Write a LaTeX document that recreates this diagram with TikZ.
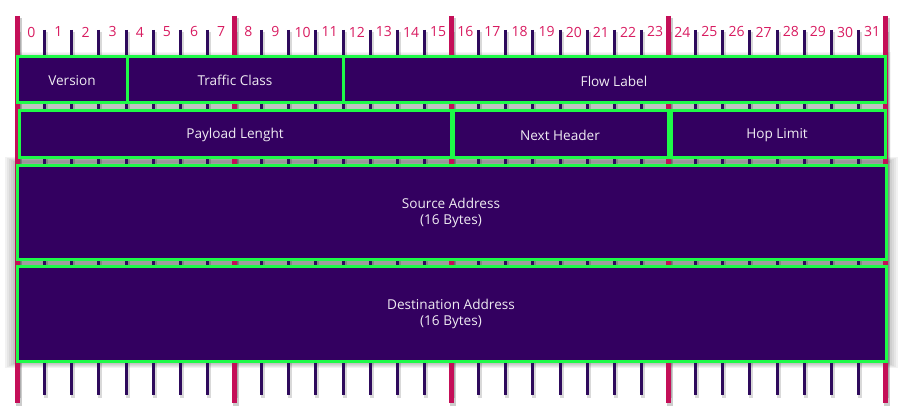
\documentclass[tikz,border=0pt]{standalone}
\usepackage{fontspec}
\setmainfont{Open Sans}
\definecolor{bitpink}{HTML}{D81B60}
\definecolor{bigtick}{HTML}{C40F58}
\definecolor{smalltick}{HTML}{2E0A5C}
\definecolor{hdrfill}{HTML}{330060}
\definecolor{hdrline}{HTML}{1EFA48}
\definecolor{gapgray}{HTML}{DCDCDC}
\tikzset{
  hdrbox/.style={fill=hdrfill,draw=hdrline,line width=2.25pt},
  hdrtext/.style={text=white!92!hdrfill,font=\fontsize{10.2}{12}\selectfont,align=center},
  bitnum/.style={text=bitpink,font=\fontsize{10.5}{12}\selectfont},
}
\begin{document}
\begin{tikzpicture}[x=0.75pt,y=0.75pt,yscale=-1,xscale=1]
        \useasboundingbox (0,0) rectangle (905,416);
        % light band seen between the rows
        \fill[gapgray] (17,100) rectangle (886,266);
        % shadows
        \foreach \s in {1,...,6}
            \fill[black,opacity=0.05] (17-2*\s,163-\s) rectangle (886+2*\s,362+\s);
        \foreach \s in {1,...,3}
            \fill[black,opacity=0.04] (19,55-\s) rectangle (885+2*\s,160+\s);
        % bit ticks
        \foreach \k in {0,...,32}{
            \draw[black,opacity=0.15,line width=3pt] (17.5+27.125*\k+1.5,32) -- (17.5+27.125*\k+1.5,398);
            \draw[smalltick,line width=2.25pt] (17.5+27.125*\k,30) -- (17.5+27.125*\k,395);
        }
        \foreach \k in {0,8,...,32}{
            \draw[black,opacity=0.2,line width=4.5pt] (17.5+27.125*\k+1.5,18) -- (17.5+27.125*\k+1.5,406);
            \draw[bigtick,line width=4pt] (17.5+27.125*\k,16) -- (17.5+27.125*\k,403);
        }
        % bit numbers
        \foreach \k in {0,...,31}
            \node[bitnum] (b\k) at (17.5+27.125*\k+13.8,32) {\k};
        % row 1
        \draw[hdrbox] (17,57) rectangle (127,103);
        \node[hdrtext] (version) at (72,81) {Version};
        \draw[hdrbox] (127,57) rectangle (343,103);
        \node[hdrtext] (tclass) at (235,80) {Traffic Class};
        \draw[hdrbox] (343,57) rectangle (885,103);
        \node[hdrtext] (flow) at (614,81) {Flow Label};
        % row 2
        \draw[hdrbox] (19,111) rectangle (451,158);
        \node[hdrtext] (payload) at (235,135) {Payload Lenght};
        \draw[hdrbox] (453,111) rectangle (668,158);
        \node[hdrtext] (nexthdr) at (560,135) {Next Header};
        \draw[hdrbox] (671,111) rectangle (885,158);
        \node[hdrtext] (hoplim) at (777,135) {Hop Limit};
        % rows 3 and 4
        \draw[hdrbox] (17,166) rectangle (886,260);
        \node[hdrtext] (src) at (451,213) {Source Address\\(16 Bytes)};
        \draw[hdrbox] (17,267) rectangle (886,361);
        \node[hdrtext] (dst) at (451,314) {Destination Address\\(16 Bytes)};
    \end{tikzpicture}
\end{document}
